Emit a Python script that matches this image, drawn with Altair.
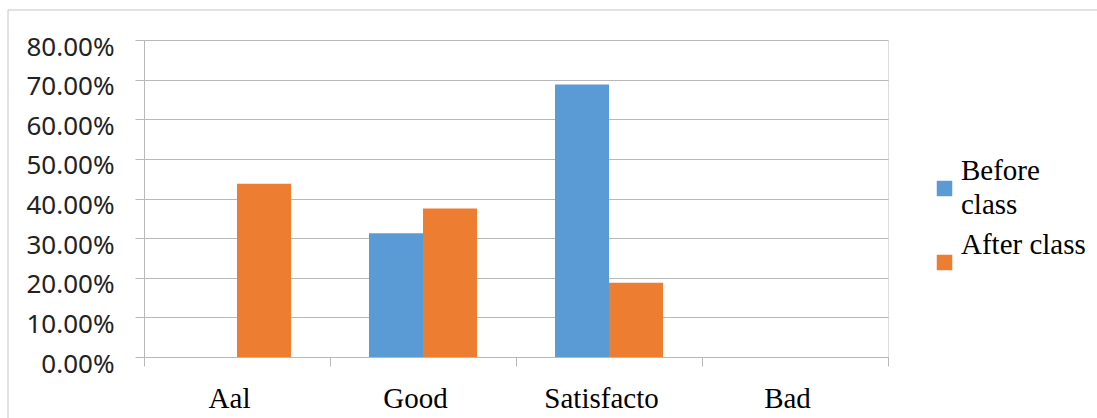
import altair as alt
import pandas as pd

categories = ["Aal", "Good", "Satisfacto", "Bad"]
series = ["Before class", "After class"]
before_class = [0.0, 0.3125, 0.6875, 0.0]
after_class = [0.4375, 0.375, 0.1875, 0.0]
y_ticks = [0.0, 0.1, 0.2, 0.3, 0.4, 0.5, 0.6, 0.7, 0.8]
colors = ["#5B9BD5", "#ED7D31"]

rows = []
for i, c in enumerate(categories):
    rows.append({"category": c, "series": series[0], "value": before_class[i]})
    rows.append({"category": c, "series": series[1], "value": after_class[i]})
df = pd.DataFrame(rows)

grid = "#b8b8b8"

bars = alt.Chart(df).mark_bar().encode(
    x=alt.X(
        "category:N",
        sort=categories,
        scale=alt.Scale(paddingInner=0, paddingOuter=0),
        axis=alt.Axis(
            title=None,
            labelAngle=0,
            tickBand="extent",
            tickSize=9,
            tickColor=grid,
            domainColor=grid,
            labelFont="Liberation Serif",
            labelFontSize=29,
            labelColor="black",
            labelBaseline="alphabetic",
            labelPadding=41,
            labelOffset=-8,
            grid=False,
        ),
    ),
    xOffset=alt.XOffset(
        "series:N",
        sort=series,
        scale=alt.Scale(paddingInner=0, paddingOuter=0.7222),
    ),
    y=alt.Y(
        "value:Q",
        scale=alt.Scale(domain=[0, 0.8], nice=False),
        axis=alt.Axis(
            title=None,
            format=".2%",
            values=y_ticks,
            grid=True,
            gridColor=grid,
            tickSize=9,
            tickColor=grid,
            domainColor=grid,
            labelFont="Noto Sans",
            labelFontSize=26,
            labelColor="#222222",
            labelPadding=21,
            labelOffset=7,
        ),
    ),
    color=alt.Color(
        "series:N",
        sort=series,
        scale=alt.Scale(domain=series, range=colors),
        legend=alt.Legend(
            title=None,
            orient="none",
            legendX=786,
            legendY=134,
            symbolType="square",
            symbolSize=240,
            symbolStrokeWidth=0,
            labelFont="Liberation Serif",
            labelFontSize=29,
            labelColor="black",
            labelExpr="datum.label == 'Before class' ? ['Before', 'class'] : ['After class']",
            labelBaseline="line-bottom",
            labelOffset=2,
            labelLimit=300,
            rowPadding=10,
            padding=0,
        ),
    ),
)

border = alt.Chart(alt.Data(values=[{}])).mark_rect(
    fill="white", fillOpacity=0, stroke="#c4c4c4", strokeWidth=1
).encode(
    x=alt.value(-136), x2=alt.value(962), y=alt.value(-30), y2=alt.value(400)
)

chart = alt.layer(border, bars).properties(
    width=744,
    height=317,
    autosize=alt.AutoSizeParams(type="none"),
    padding={"left": 144, "top": 40, "right": 209, "bottom": 61},
).configure_view(stroke=None).configure(style={"guide-label": {"lineHeight": 34}})

chart.save("out.html", embed_options={"renderer": "svg", "actions": False})
